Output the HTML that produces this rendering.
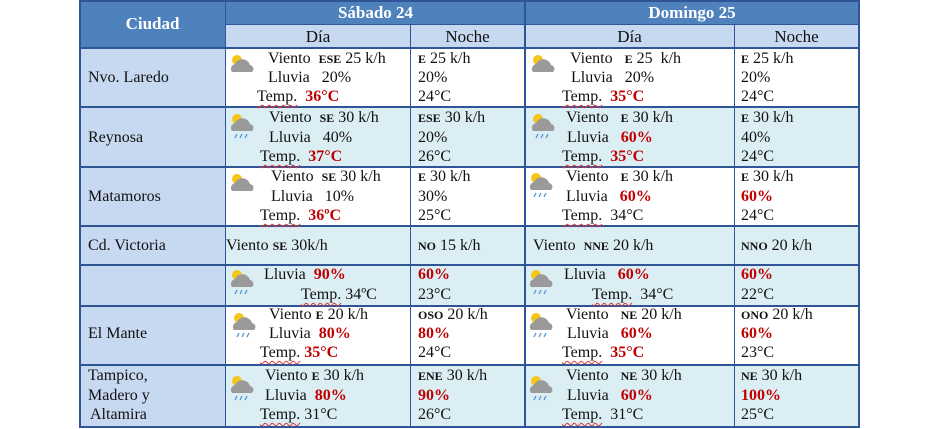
<!DOCTYPE html>
<html><head><meta charset="utf-8"><style>
body{margin:0;width:940px;height:429px;background:#fff;position:relative;overflow:hidden;font-family:"Liberation Serif",serif;font-size:16px;color:#111}
.b{position:absolute}
.t{position:absolute;line-height:18px;white-space:nowrap}
.r{color:#c00000;font-weight:bold}
.d{font-weight:bold;font-size:12px}
.u{text-decoration:underline wavy #d33;text-decoration-thickness:1px;text-underline-offset:3px}
.h{color:#fff;font-weight:bold;font-size:17px}
.hl{position:absolute;background:#2f5597;height:2px;left:79px;width:781px}
.vl{position:absolute;background:#2f5597;width:1px;top:0;height:428px}
</style></head><body>
<div class="b" style="left:79px;top:0;width:781px;height:25px;background:#4f81bd"></div>
<div class="b" style="left:79px;top:0;width:147px;height:48px;background:#4f81bd"></div>
<div class="b" style="left:226px;top:25px;width:634px;height:23px;background:#c6d9f1"></div>
<div class="b" style="left:79px;top:48px;width:147px;height:380px;background:#c6d9f1"></div>
<div class="b" style="left:226px;top:107px;width:634px;height:60px;background:#dbeef4"></div>
<div class="b" style="left:226px;top:226px;width:634px;height:80px;background:#dbeef4"></div>
<div class="b" style="left:226px;top:365px;width:634px;height:63px;background:#dbeef4"></div>
<div class="hl" style="top:0"></div>
<div class="hl" style="top:24px;left:226px;width:634px;height:1px"></div>
<div class="hl" style="top:47px"></div>
<div class="hl" style="top:106px"></div>
<div class="hl" style="top:166px"></div>
<div class="hl" style="top:225px"></div>
<div class="hl" style="top:264px"></div>
<div class="hl" style="top:305px"></div>
<div class="hl" style="top:364px"></div>
<div class="hl" style="top:426px"></div>
<div class="vl" style="left:79px;width:2px"></div>
<div class="vl" style="left:225px"></div>
<div class="vl" style="left:410px;top:25px;height:403px"></div>
<div class="vl" style="left:524px;width:2px"></div>
<div class="vl" style="left:734px;top:25px;height:403px"></div>
<div class="vl" style="left:858px;width:2px"></div>
<div class="t h" style="left:79px;width:147px;text-align:center;top:15px">Ciudad</div>
<div class="t h" style="left:226px;width:299px;text-align:center;top:4px">Sábado 24</div>
<div class="t h" style="left:525px;width:334px;text-align:center;top:4px">Domingo 25</div>
<div class="t" style="left:226px;width:184px;text-align:center;top:28px;font-size:17px">Día</div>
<div class="t" style="left:410px;width:115px;text-align:center;top:28px;font-size:17px">Noche</div>
<div class="t" style="left:525px;width:209px;text-align:center;top:28px;font-size:17px">Día</div>
<div class="t" style="left:734px;width:125px;text-align:center;top:28px;font-size:17px">Noche</div>
<svg width="0" height="0" style="position:absolute"><defs>
<g id="ic"><circle cx="8" cy="7" r="5" fill="#f5c518"/><path d="M3 19a5 5 0 0 1 3-8a8 8 0 0 1 15 1a4 4 0 0 1 2 7z" fill="#9a9a9a"/></g>
<g id="ir"><use href="#ic"/><path d="M8 22l-2 4M13 22l-2 4M18 22l-2 4" stroke="#4a8fd0" stroke-width="1.2"/></g>
</defs></svg>
<div class="t" style="left:88px;top:69px">Nvo. Laredo</div>
<svg class="b" style="left:229px;top:53px" width="28" height="28"><use href="#ic"/></svg>
<div class="t" style="left:268px;top:50px">Viento &nbsp;<span class="d">ESE</span> 25 k/h</div>
<div class="t" style="left:268px;top:69px">Lluvia &nbsp;&nbsp;20%</div>
<div class="t" style="left:257px;top:88px"><span class="u">Temp.</span> &nbsp;<span class="r">36°C</span></div>
<div class="t" style="left:418px;top:50px"><span class="d">E</span> 25 k/h</div>
<div class="t" style="left:418px;top:69px">20%</div>
<div class="t" style="left:418px;top:88px">24°C</div>
<svg class="b" style="left:530px;top:53px" width="28" height="28"><use href="#ic"/></svg>
<div class="t" style="left:570px;top:50px">Viento &nbsp;&nbsp;<span class="d">E</span> 25 &nbsp;k/h</div>
<div class="t" style="left:571px;top:69px">Lluvia &nbsp;&nbsp;20%</div>
<div class="t" style="left:562px;top:88px"><span class="u">Temp.</span> &nbsp;<span class="r">35°C</span></div>
<div class="t" style="left:741px;top:50px"><span class="d">E</span> 25 k/h</div>
<div class="t" style="left:741px;top:69px">20%</div>
<div class="t" style="left:741px;top:88px">24°C</div>
<div class="t" style="left:88px;top:129px">Reynosa</div>
<svg class="b" style="left:229px;top:112px" width="28" height="30"><use href="#ir"/></svg>
<div class="t" style="left:269px;top:109px">Viento &nbsp;<span class="d">SE</span> 30 k/h</div>
<div class="t" style="left:269px;top:129px">Lluvia &nbsp;&nbsp;40%</div>
<div class="t" style="left:260px;top:148px"><span class="u">Temp.</span> &nbsp;<span class="r">37°C</span></div>
<div class="t" style="left:418px;top:109px"><span class="d">ESE</span> 30 k/h</div>
<div class="t" style="left:418px;top:129px">20%</div>
<div class="t" style="left:418px;top:148px">26°C</div>
<svg class="b" style="left:530px;top:112px" width="28" height="30"><use href="#ir"/></svg>
<div class="t" style="left:566px;top:109px">Viento &nbsp;&nbsp;<span class="d">E</span> 30 k/h</div>
<div class="t" style="left:567px;top:129px">Lluvia &nbsp;&nbsp;<span class="r">60%</span></div>
<div class="t" style="left:562px;top:148px"><span class="u">Temp.</span> &nbsp;<span class="r">35°C</span></div>
<div class="t" style="left:741px;top:109px"><span class="d">E</span> 30 k/h</div>
<div class="t" style="left:741px;top:129px">40%</div>
<div class="t" style="left:741px;top:148px">24°C</div>
<div class="t" style="left:88px;top:188px">Matamoros</div>
<svg class="b" style="left:229px;top:172px" width="30" height="28"><use href="#ic"/></svg>
<div class="t" style="left:271px;top:168px">Viento &nbsp;<span class="d">SE</span> 30 k/h</div>
<div class="t" style="left:271px;top:188px">Lluvia &nbsp;&nbsp;10%</div>
<div class="t" style="left:260px;top:207px"><span class="u">Temp.</span> &nbsp;<span class="r">36ºC</span></div>
<div class="t" style="left:418px;top:168px"><span class="d">E</span> 30 k/h</div>
<div class="t" style="left:418px;top:188px">30%</div>
<div class="t" style="left:418px;top:207px">25°C</div>
<svg class="b" style="left:528px;top:171px" width="28" height="30"><use href="#ir"/></svg>
<div class="t" style="left:566px;top:168px">Viento &nbsp;&nbsp;<span class="d">E</span> 30 k/h</div>
<div class="t" style="left:566px;top:188px">Lluvia &nbsp;&nbsp;<span class="r">60%</span></div>
<div class="t" style="left:562px;top:207px"><span class="u">Temp.</span> &nbsp;34°C</div>
<div class="t" style="left:741px;top:168px"><span class="d">E</span> 30 k/h</div>
<div class="t" style="left:741px;top:188px"><span class="r">60%</span></div>
<div class="t" style="left:741px;top:207px">24°C</div>
<div class="t" style="left:88px;top:237px">Cd. Victoria</div>
<div class="t" style="left:226px;top:237px">Viento <span class="d">SE</span> 30k/h</div>
<div class="t" style="left:418px;top:237px"><span class="d">NO</span> 15 k/h</div>
<div class="t" style="left:533px;top:237px">Viento &nbsp;<span class="d">NNE</span> 20 k/h</div>
<div class="t" style="left:741px;top:237px"><span class="d">NNO</span> 20 k/h</div>
<svg class="b" style="left:229px;top:268px" width="28" height="30"><use href="#ir"/></svg>
<div class="t" style="left:264px;top:266px">Lluvia &nbsp;<span class="r">90%</span></div>
<div class="t" style="left:301px;top:286px"><span class="u">Temp.</span> 34ºC</div>
<div class="t" style="left:418px;top:266px"><span class="r">60%</span></div>
<div class="t" style="left:418px;top:286px">23°C</div>
<svg class="b" style="left:528px;top:268px" width="28" height="30"><use href="#ir"/></svg>
<div class="t" style="left:564px;top:266px">Lluvia &nbsp;&nbsp;<span class="r">60%</span></div>
<div class="t" style="left:592px;top:286px"><span class="u">Temp.</span> &nbsp;34°C</div>
<div class="t" style="left:741px;top:266px"><span class="r">60%</span></div>
<div class="t" style="left:741px;top:286px">22°C</div>
<div class="t" style="left:88px;top:325px">El Mante</div>
<svg class="b" style="left:231px;top:311px" width="28" height="30"><use href="#ir"/></svg>
<div class="t" style="left:269px;top:306px">Viento <span class="d">E</span> 20 k/h</div>
<div class="t" style="left:269px;top:325px">Lluvia &nbsp;<span class="r">80%</span></div>
<div class="t" style="left:260px;top:344px"><span class="u">Temp.</span> <span class="r">35°C</span></div>
<div class="t" style="left:418px;top:306px"><span class="d">OSO</span> 20 k/h</div>
<div class="t" style="left:418px;top:325px"><span class="r">80%</span></div>
<div class="t" style="left:418px;top:344px">24°C</div>
<svg class="b" style="left:528px;top:311px" width="28" height="30"><use href="#ir"/></svg>
<div class="t" style="left:566px;top:306px">Viento &nbsp;&nbsp;<span class="d">NE</span> 20 k/h</div>
<div class="t" style="left:567px;top:325px">Lluvia &nbsp;&nbsp;<span class="r">60%</span></div>
<div class="t" style="left:562px;top:344px"><span class="u">Temp.</span> &nbsp;<span class="r">35°C</span></div>
<div class="t" style="left:741px;top:306px"><span class="d">ONO</span> 20 k/h</div>
<div class="t" style="left:741px;top:325px"><span class="r">60%</span></div>
<div class="t" style="left:741px;top:344px">23°C</div>
<div class="t" style="left:88px;top:367px">Tampico,</div>
<div class="t" style="left:88px;top:387px">Madero y</div>
<div class="t" style="left:90px;top:406px">Altamira</div>
<svg class="b" style="left:229px;top:374px" width="28" height="30"><use href="#ir"/></svg>
<div class="t" style="left:265px;top:367px">Viento <span class="d">E</span> 30 k/h</div>
<div class="t" style="left:265px;top:387px">Lluvia &nbsp;<span class="r">80%</span></div>
<div class="t" style="left:260px;top:406px"><span class="u">Temp.</span> 31°C</div>
<div class="t" style="left:418px;top:367px"><span class="d">ENE</span> 30 k/h</div>
<div class="t" style="left:418px;top:387px"><span class="r">90%</span></div>
<div class="t" style="left:418px;top:406px">26°C</div>
<svg class="b" style="left:528px;top:374px" width="28" height="30"><use href="#ir"/></svg>
<div class="t" style="left:566px;top:367px">Viento &nbsp;&nbsp;<span class="d">NE</span> 30 k/h</div>
<div class="t" style="left:567px;top:387px">Lluvia &nbsp;&nbsp;<span class="r">60%</span></div>
<div class="t" style="left:562px;top:406px"><span class="u">Temp.</span> &nbsp;31°C</div>
<div class="t" style="left:741px;top:367px"><span class="d">NE</span> 30 k/h</div>
<div class="t" style="left:741px;top:387px"><span class="r">100%</span></div>
<div class="t" style="left:741px;top:406px">25°C</div>
</body></html>
